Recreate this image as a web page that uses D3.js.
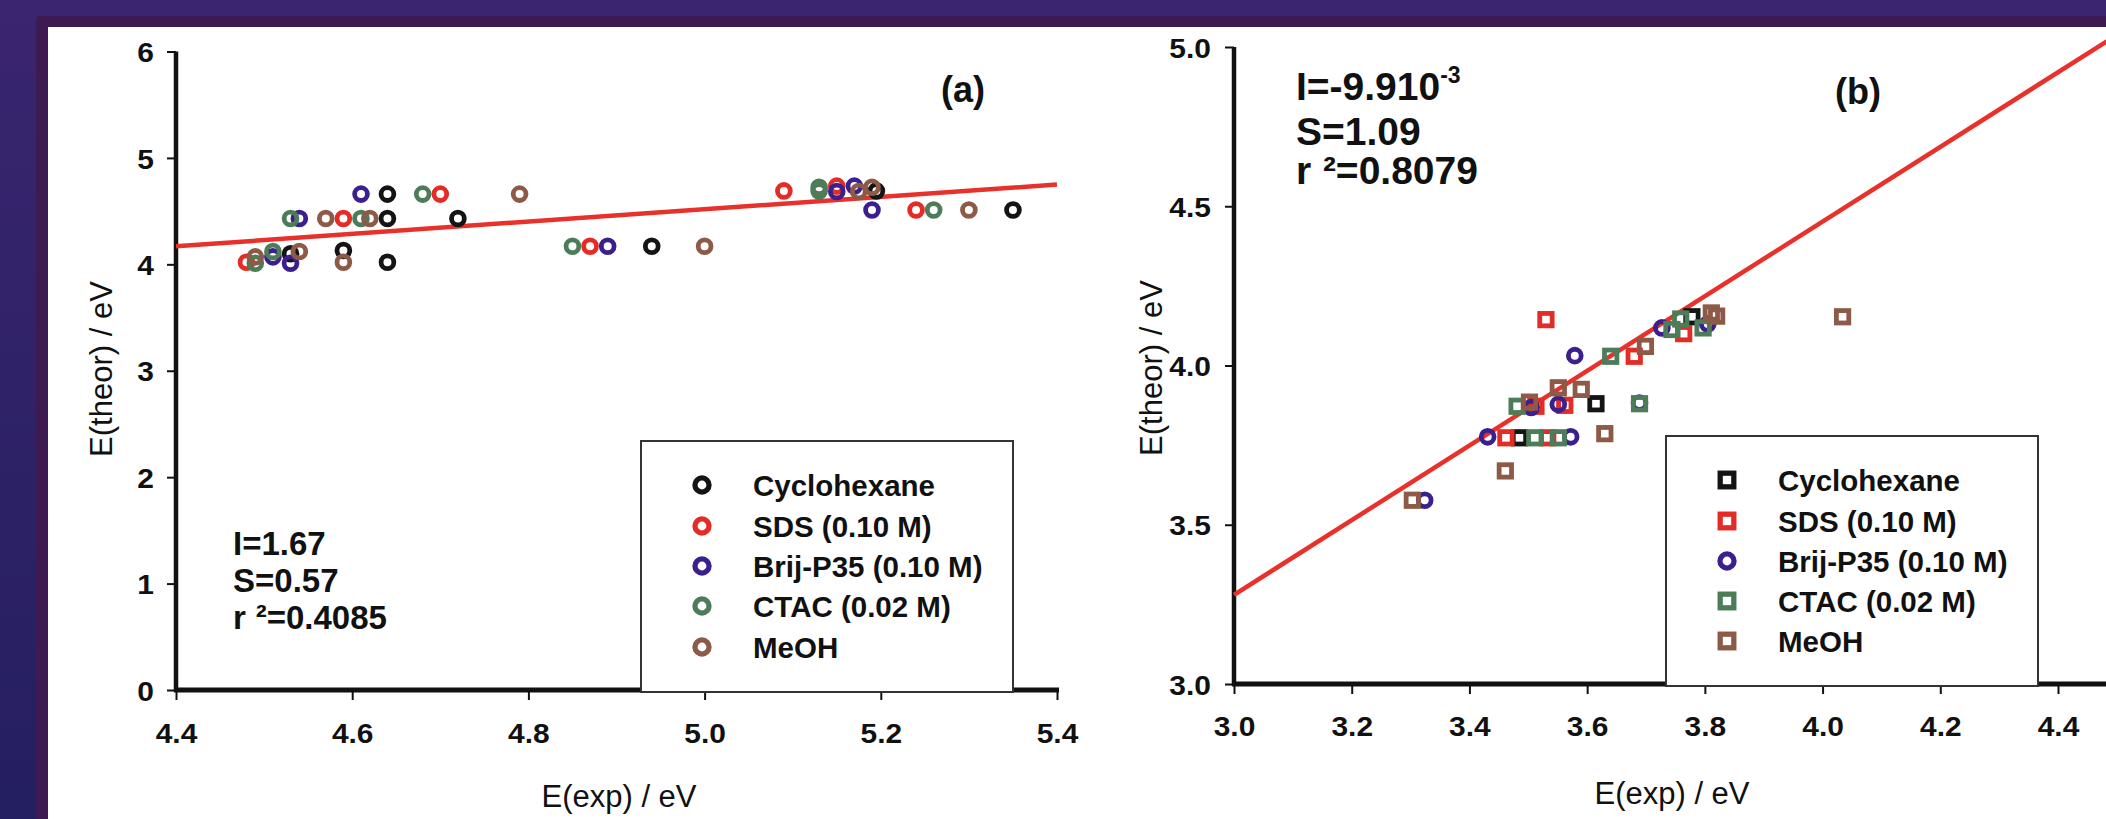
<!DOCTYPE html>
<html>
<head>
<meta charset="utf-8">
<script src="https://cdn.jsdelivr.net/npm/d3@7"></script>
<style>
  html, body { margin: 0; padding: 0; background: #36246c; }
  svg { display: block; font-family: "Liberation Sans", Arial, sans-serif; }
</style>
</head>
<body>
<svg id="chart" width="2106" height="819"></svg>
<script>
// ---- data ----
const seriesNames  = ['Cyclohexane', 'SDS (0.10 M)', 'Brij-P35 (0.10 M)', 'CTAC (0.02 M)', 'MeOH'];
const seriesColors = ['#141414', '#e42b26', '#3b1f8e', '#4d7d58', '#8c5a47'];
const markersB     = ['square', 'square', 'circle', 'square', 'square'];

// panel (a): [E(exp), E(theor)]
const cyclohexaneA = [[4.64,4.66],[4.64,4.43],[4.72,4.43],[4.53,4.10],[4.59,4.13],[4.64,4.02],[4.94,4.17],[5.195,4.69],[5.35,4.51]];
const sdsA   = [[4.70,4.66],[4.59,4.43],[4.48,4.02],[4.87,4.17],[5.09,4.69],[5.15,4.735],[5.24,4.51]];
const brijA  = [[4.61,4.66],[4.54,4.43],[4.51,4.07],[4.53,4.01],[4.89,4.17],[5.15,4.685],[5.17,4.735],[5.19,4.51]];
const ctacA  = [[4.68,4.66],[4.53,4.43],[4.61,4.43],[4.49,4.01],[4.51,4.12],[4.85,4.17],[5.13,4.725],[5.13,4.69],[5.26,4.51]];
const meohA  = [[4.79,4.66],[4.57,4.43],[4.62,4.43],[4.49,4.07],[4.54,4.12],[4.59,4.02],[5.00,4.17],[5.175,4.685],[5.19,4.725],[5.30,4.51]];
const fitA   = [[4.4,4.17],[5.4,4.75]];

// panel (b)
const cyclohexaneB = [[3.485,3.773],[3.615,3.88],[3.778,4.153]];
const sdsB   = [[3.53,4.144],[3.68,4.029],[3.764,4.10],[3.462,3.773],[3.513,3.872],[3.533,3.773],[3.562,3.875]];
const brijB  = [[3.579,4.031],[3.727,4.118],[3.505,3.868],[3.551,3.878],[3.689,3.882],[3.431,3.776],[3.572,3.776],[3.324,3.577],[3.805,4.13]];
const ctacB  = [[3.64,4.029],[3.481,3.872],[3.689,3.88],[3.511,3.773],[3.551,3.773],[3.759,4.146],[3.744,4.113],[3.797,4.118]];
const meohB  = [[3.699,4.06],[3.811,4.165],[3.82,4.155],[3.551,3.93],[3.59,3.925],[3.502,3.885],[3.63,3.786],[3.461,3.669],[3.303,3.577],[4.034,4.153]];
const fitB   = [[3.0,3.28],[4.6,5.155]];

const xTicksA = [4.4, 4.6, 4.8, 5.0, 5.2, 5.4];
const yTicksA = [0, 1, 2, 3, 4, 5, 6];
const xTicksB = [3.0, 3.2, 3.4, 3.6, 3.8, 4.0, 4.2, 4.4];
const yTicksB = [3.0, 3.5, 4.0, 4.5, 5.0];

const statsA = ['I=1.67', 'S=0.57', ['r', '\u00b2=0.4085']];
const statsB = ['I=-9.910', 'S=1.09', ['r', '\u00b2=0.8079']];

// tick numbers in the figure are a little wider than plain Arial bold
const TICK_SX = 1.07;

const svg = d3.select('#chart');

// ---- background frame ----
const defs = svg.append('defs');
const grad = defs.append('linearGradient').attr('id', 'bg').attr('x1', 0).attr('y1', 0).attr('x2', 0).attr('y2', 1);
grad.append('stop').attr('offset', 0).attr('stop-color', '#3a2570');
grad.append('stop').attr('offset', 1).attr('stop-color', '#241f5f');
svg.append('rect').attr('width', 2106).attr('height', 819).attr('fill', 'url(#bg)');
svg.append('rect').attr('x', 36).attr('y', 16).attr('width', 2100).attr('height', 850).attr('rx', 4).attr('fill', '#3d1a52');
svg.append('rect').attr('x', 48).attr('y', 27).attr('width', 2100).attr('height', 850).attr('fill', '#ffffff');

function sText(parent, x, y, str, size, weight, anchor) {
  return parent.append('text')
    .attr('x', x).attr('y', y)
    .attr('font-size', size)
    .attr('font-weight', weight)
    .attr('text-anchor', anchor || 'start')
    .attr('fill', '#111')
    .text(str);
}

// "r ²=..." has a wider gap before the superscript
function statText(parent, x, y, s, size) {
  if (!Array.isArray(s)) return sText(parent, x, y, s, size, 'bold');
  const t = sText(parent, x, y, s[0], size, 'bold');
  t.append('tspan').attr('dx', size * 0.3).text(s[1]);
  return t;
}

function drawPanel(cfg) {
  const g = svg.append('g');
  const x = d3.scaleLinear().domain(cfg.xDomain).range(cfg.xRange);
  const y = d3.scaleLinear().domain(cfg.yDomain).range(cfg.yRange);
  const y0 = cfg.yRange[0];
  const x0 = cfg.xRange[0];

  // y axis ticks + labels
  const ya = g.append('g').attr('transform', `translate(${x0},0)`)
    .call(d3.axisLeft(y).tickValues(cfg.yTicks).tickSize(9).tickSizeOuter(0).tickFormat(cfg.yFmt));
  ya.select('.domain').remove();
  ya.selectAll('line').attr('stroke', '#111').attr('stroke-width', 2);
  ya.selectAll('text')
    .attr('x', 0).attr('dy', '0.36em')
    .attr('transform', `translate(${-cfg.yLabelGap},0) scale(${TICK_SX},1)`)
    .attr('font-size', 28).attr('font-weight', 'bold').attr('fill', '#111');

  // x axis ticks + labels
  const xa = g.append('g').attr('transform', `translate(0,${y0})`)
    .call(d3.axisBottom(x).tickValues(cfg.xTicks).tickSize(10).tickSizeOuter(0).tickFormat(d3.format('.1f')));
  xa.select('.domain').remove();
  xa.selectAll('line').attr('stroke', '#111').attr('stroke-width', 2);
  xa.selectAll('text')
    .attr('y', 0).attr('dy', '0.36em')
    .attr('transform', `translate(0,${cfg.xLabelGap}) scale(${TICK_SX},1)`)
    .attr('font-size', 28).attr('font-weight', 'bold').attr('fill', '#111');
  g.selectAll('g').attr('font-family', null);

  // axis lines
  g.append('line').attr('x1', x0).attr('x2', x0).attr('y1', y(cfg.yDomain[1])).attr('y2', y0 + 2)
    .attr('stroke', '#111').attr('stroke-width', 4.5);
  g.append('line').attr('x1', x0 - 2).attr('x2', cfg.xAxisEnd).attr('y1', y0).attr('y2', y0)
    .attr('stroke', '#111').attr('stroke-width', 5);

  // axis titles
  sText(g, cfg.xTitle[0], cfg.xTitle[1], 'E(exp) / eV', 31, 'normal', 'middle');
  g.append('text')
    .attr('transform', `translate(${cfg.yTitle[0]},${cfg.yTitle[1]}) rotate(-90)`)
    .attr('font-size', 31).attr('text-anchor', 'middle').attr('dy', '0.35em').attr('fill', '#111')
    .text('E(theor) / eV');

  // fit line
  g.append('path')
    .datum(cfg.fit)
    .attr('d', d3.line().x(d => x(d[0])).y(d => y(d[1])))
    .attr('fill', 'none').attr('stroke', '#e8312b').attr('stroke-width', 4.5);

  // legend box (drawn over the axis line)
  const lg = g.append('g');
  lg.append('rect').attr('x', cfg.legend.x).attr('y', cfg.legend.y)
    .attr('width', cfg.legend.w).attr('height', y0 + 2 - cfg.legend.y)
    .attr('fill', '#fff').attr('stroke', '#333').attr('stroke-width', 2);
  seriesNames.forEach((name, i) => {
    const cy = cfg.legend.rows[i];
    drawMarker(lg, cfg.legend.mx, cy, cfg.markers[i], seriesColors[i], 1.1);
    sText(lg, cfg.legend.tx, cy + 10.5, name, 29.5, 'bold');
  });

  // points
  cfg.series.forEach((pts, i) => {
    pts.forEach(p => drawMarker(g, x(p[0]), y(p[1]), cfg.markers[i], seriesColors[i], 1));
  });

  return g;
}

function drawMarker(g, cx, cy, shape, color, k) {
  if (shape === 'circle') {
    g.append('circle').attr('cx', cx).attr('cy', cy).attr('r', 6.4 * k)
      .attr('fill', 'none').attr('stroke', color).attr('stroke-width', 4.8 * k);
  } else {
    const h = 6.2 * k;
    g.append('rect').attr('x', cx - h).attr('y', cy - h).attr('width', 2 * h).attr('height', 2 * h)
      .attr('fill', 'none').attr('stroke', color).attr('stroke-width', 4.8 * k);
  }
}

// ---- panel (a) ----
const gA = drawPanel({
  xDomain: [4.4, 5.4], xRange: [176, 1057],
  yDomain: [0, 6], yRange: [690, 51.5],
  xTicks: xTicksA, yTicks: yTicksA, yFmt: d3.format('d'),
  yLabelGap: 22, xLabelGap: 43, xAxisEnd: 1059,
  xTitle: [619, 807], yTitle: [101, 369],
  fit: fitA,
  markers: ['circle', 'circle', 'circle', 'circle', 'circle'],
  series: [cyclohexaneA, sdsA, brijA, ctacA, meohA],
  legend: { x: 641, y: 441, w: 372, mx: 702, tx: 753, rows: [485, 526, 566, 606, 647] }
});
statsA.forEach((s, i) => statText(gA, 233, [555, 592, 629][i], s, 33));
sText(gA, 963, 102, '(a)', 36, 'bold', 'middle');

// ---- panel (b) ----
const gB = drawPanel({
  xDomain: [3.0, 4.4], xRange: [1234, 2058],
  yDomain: [3.0, 5.0], yRange: [684, 47],
  xTicks: xTicksB, yTicks: yTicksB, yFmt: d3.format('.1f'),
  yLabelGap: 23, xLabelGap: 42, xAxisEnd: 2110,
  xTitle: [1672, 804], yTitle: [1151, 368],
  fit: fitB,
  markers: markersB,
  series: [cyclohexaneB, sdsB, brijB, ctacB, meohB],
  legend: { x: 1666, y: 436, w: 372, mx: 1727, tx: 1778, rows: [480, 521, 561, 601, 641] }
});
const tI = statText(gB, 1296, 100, statsB[0], 39);
tI.append('tspan').attr('dy', -17).attr('font-size', 23).text('-3');
statText(gB, 1296, 145, statsB[1], 39);
statText(gB, 1296, 184, statsB[2], 39);
sText(gB, 1858, 104, '(b)', 36, 'bold', 'middle');
</script>
</body>
</html>
